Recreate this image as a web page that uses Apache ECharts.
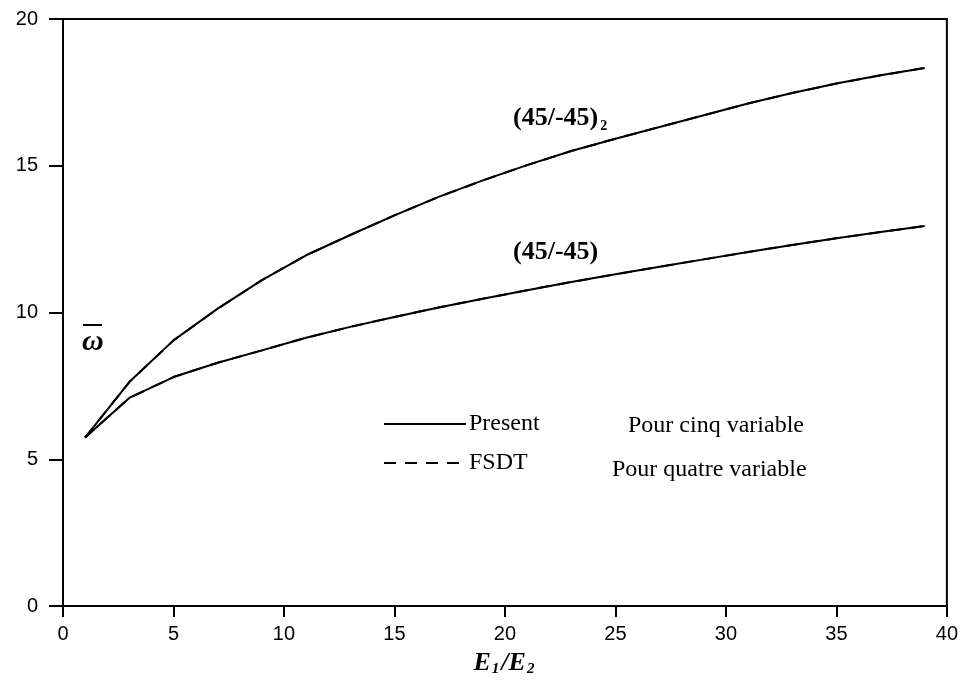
<!DOCTYPE html>
<html>
<head>
<meta charset="utf-8">
<script src="https://cdn.jsdelivr.net/npm/echarts@6/dist/echarts.min.js"></script>
<style>html,body{margin:0;padding:0;background:#fff}#c{width:961px;height:682px}</style>
</head>
<body>
<div id="c"></div>
<script>
const xValues = [1,3,5,7,9,11,13,15,17,19,21,23,25,27,29,31,33,35,37,39];
const presentUpper = [5.74,7.63,9.05,10.13,11.10,11.95,12.64,13.31,13.94,14.50,15.02,15.50,15.92,16.32,16.72,17.12,17.48,17.80,18.08,18.33];
const presentLower = [5.74,7.09,7.80,8.29,8.71,9.14,9.51,9.85,10.17,10.47,10.76,11.04,11.30,11.56,11.81,12.06,12.30,12.53,12.74,12.95];
const fsdtUpper = presentUpper.slice();
const fsdtLower = presentLower.slice();
const xTicks = [0,5,10,15,20,25,30,35,40];
const yTicks = [0,5,10,15,20];

const pairs = ys => xValues.map((x, i) => [x, ys[i]]);
const chart = echarts.init(document.getElementById('c'), null, {renderer: 'canvas'});
const tickFont = {fontFamily: 'Liberation Sans, Arial', fontSize: 20, color: '#000'};
const serif = 'Liberation Serif, Times New Roman';

chart.setOption({
  animation: false,
  backgroundColor: '#fff',
  grid: {left: 63, right: 13, top: 19, bottom: 76, show: true, borderColor: '#000', borderWidth: 2, backgroundColor: 'transparent'},
  xAxis: {
    type: 'value', min: xTicks[0], max: xTicks[xTicks.length - 1], interval: 5,
    name: '{e|E}{s|1}{e|/E}{s|2}', nameLocation: 'middle', nameGap: 44,
    nameTextStyle: {rich: {
      e: {fontFamily: serif, fontStyle: 'italic', fontWeight: 'bold', fontSize: 26, color: '#000'},
      s: {fontFamily: serif, fontStyle: 'italic', fontWeight: 'bold', fontSize: 15, color: '#000', verticalAlign: 'bottom', padding: [12, 2, 0, 1]}
    }},
    axisLine: {lineStyle: {color: '#000', width: 2}},
    axisTick: {show: true, inside: false, length: 11, lineStyle: {color: '#000', width: 2}},
    axisLabel: Object.assign({margin: 18}, tickFont),
    splitLine: {show: false}
  },
  yAxis: {
    type: 'value', min: yTicks[0], max: yTicks[yTicks.length - 1], interval: 5,
    axisLine: {show: true, lineStyle: {color: '#000', width: 2}},
    axisTick: {show: true, inside: false, length: 14, lineStyle: {color: '#000', width: 2}},
    axisLabel: Object.assign({margin: 25}, tickFont),
    splitLine: {show: false}
  },
  legend: {
    orient: 'vertical', left: 383, top: 412, padding: 0, itemWidth: 82, itemHeight: 22, itemGap: 15,
    data: ['Present', 'FSDT'],
    itemStyle: {opacity: 0},
    textStyle: {fontFamily: serif, fontSize: 24, color: '#000', padding: [0, 0, 0, -2]}
  },
  series: [
    {name: 'FSDT', type: 'line', data: pairs(fsdtUpper), symbol: 'none', z: 1,
     lineStyle: {color: '#000', width: 2, type: [12, 9]}, itemStyle: {color: '#000'}},
    {name: 'FSDT', type: 'line', data: pairs(fsdtLower), symbol: 'none', z: 1,
     lineStyle: {color: '#000', width: 2, type: [12, 9]}, itemStyle: {color: '#000'}},
    {name: 'Present', type: 'line', data: pairs(presentUpper), symbol: 'none', z: 2,
     lineStyle: {color: '#000', width: 2}, itemStyle: {color: '#000'}},
    {name: 'Present', type: 'line', data: pairs(presentLower), symbol: 'none', z: 2,
     lineStyle: {color: '#000', width: 2}, itemStyle: {color: '#000'}}
  ],
  graphic: [
    {type: 'text', left: 513, top: 105, style: {
      text: '{b|(45/-45)}{s|2}', rich: {
        b: {fontFamily: serif, fontWeight: 'bold', fontSize: 26, fill: '#000'},
        s: {fontFamily: serif, fontWeight: 'bold', fontSize: 14, fill: '#000', padding: [16, 0, 0, 2]}
      }}},
    {type: 'text', left: 513, top: 239, style: {text: '(45/-45)', fontFamily: serif, fontWeight: 'bold', fontSize: 26, fill: '#000'}},
    {type: 'text', left: 628, top: 414, style: {text: 'Pour cinq variable', fontFamily: serif, fontSize: 24, fill: '#000'}},
    {type: 'text', left: 612, top: 458, style: {text: 'Pour quatre variable', fontFamily: serif, fontSize: 24, fill: '#000'}},
    {type: 'text', left: 82, top: 327, style: {text: 'ω', fontFamily: serif, fontStyle: 'italic', fontWeight: 'bold', fontSize: 30, fill: '#000'}},
    {type: 'line', shape: {x1: 83, y1: 325, x2: 102, y2: 325}, style: {stroke: '#000', lineWidth: 2}}
  ]
});
</script>
</body>
</html>
